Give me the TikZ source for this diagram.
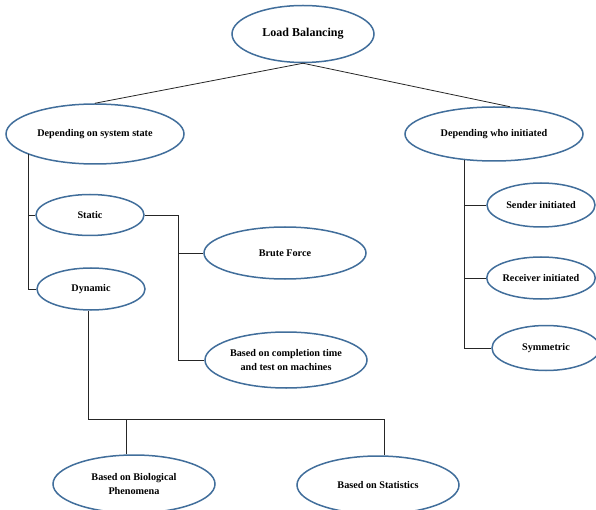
\documentclass[tikz,border=0pt]{standalone}
\usepackage{fontspec}
\setmainfont{Liberation Serif}
\usetikzlibrary{shapes.geometric}
\definecolor{ebord}{RGB}{65,110,155}
\begin{document}
\begin{tikzpicture}[x=1pt,y=-1pt,
  oval/.style={ellipse, draw=ebord, line width=1.5pt, inner sep=0pt, fill=white,
    font=\bfseries\fontsize{10.2}{14}\selectfont, align=center},
  link/.style={draw=black!85, line width=0.8pt}]
\useasboundingbox (0,0) rectangle (596,510);
\clip (0,0) rectangle (596,510);
% nodes
\node[oval, minimum width=142pt, minimum height=57pt, font=\bfseries\fontsize{12}{14}\selectfont] (lb) at (303,34) {Load Balancing};
\node[oval, minimum width=178pt, minimum height=60pt] (dss) at (95,134) {Depending on system state};
\node[oval, minimum width=178pt, minimum height=54pt] (dwi) at (494,134) {Depending who initiated};
\node[oval, minimum width=108pt, minimum height=41pt] (static) at (90,215) {Static};
\node[oval, minimum width=108pt, minimum height=42pt] (dynamic) at (91,289) {Dynamic};
\node[oval, minimum width=162pt, minimum height=52pt] (brute) at (285,253) {Brute Force};
\node[oval, minimum width=162pt, minimum height=56pt] (compl) at (286,360) {Based on completion time\\and test on machines};
\node[oval, minimum width=162pt, minimum height=58pt] (bio) at (134,484) {Based on Biological\\Phenomena};
\node[oval, minimum width=162pt, minimum height=58pt] (stats) at (378,485) {Based on Statistics};
\node[oval, minimum width=108pt, minimum height=44pt] (sender) at (541,205) {Sender initiated};
\node[oval, minimum width=108pt, minimum height=42pt] (receiver) at (541,278) {Receiver initiated};
\node[oval, minimum width=108pt, minimum height=45pt] (symm) at (546,348) {Symmetric};
% junction points
\coordinate (sj) at (178,215);
\coordinate (dj) at (88,419);
% connectors
\draw[link] (lb.south) -- (dss.north);
\draw[link] (lb.south) -- (dwi.60);
\draw[link] (dss.197) |- (static.west);
\draw[link] (dss.197) |- (dynamic.west);
\draw[link] (static.east) -- (sj) |- (compl.west);
\draw[link] (sj |- brute.west) -- (brute.west);
\draw[link] (dj |- dynamic.south) -- (dj) -| (stats.78);
\draw[link] (bio.104) -- (bio.104 |- dj);
\draw[link] (dwi.221) |- (symm.west);
\draw[link] (dwi.221 |- sender.west) -- (sender.west);
\draw[link] (dwi.221 |- receiver.west) -- (receiver.west);
\end{tikzpicture}
\end{document}
